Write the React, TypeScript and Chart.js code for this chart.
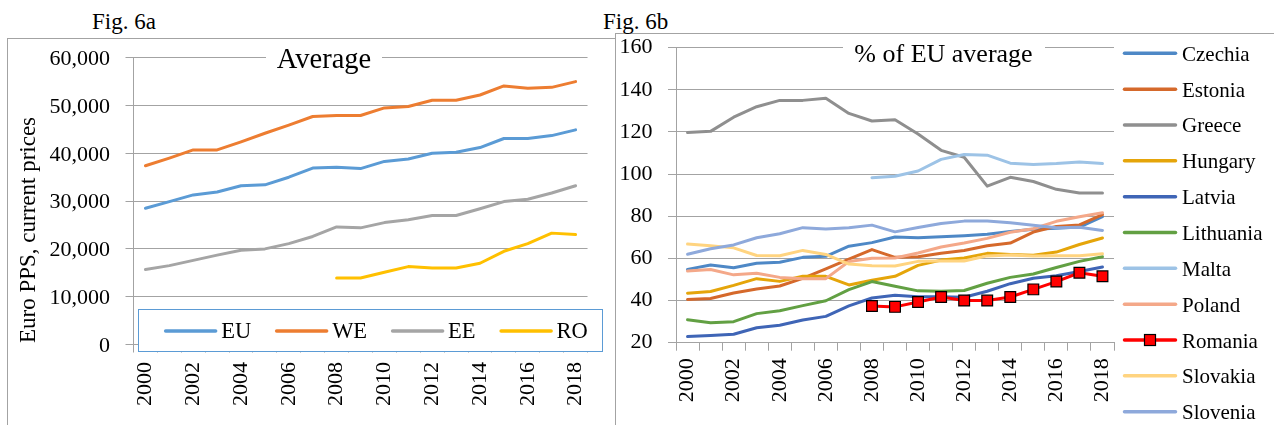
import React, { useEffect, useRef } from 'react';
import { Chart, registerables } from 'chart.js';

Chart.register(...registerables);

const FONT = "'Liberation Serif', 'Times New Roman', serif";
const GRID = '#a3a3a3';
const TEXT = '#000000';

// ---------- shared categories ----------
const years = ['2000', '2001', '2002', '2003', '2004', '2005', '2006', '2007', '2008', '2009',
  '2010', '2011', '2012', '2013', '2014', '2015', '2016', '2017', '2018'];

// ---------- Fig. 6a : Average, Euro PPS ----------
const avgNames = ['EU', 'WE', 'EE', 'RO'];
const avgColors = ['#5B9BD5', '#ED7D31', '#A5A5A5', '#FFC000'];
const euAvg = [28500, 29900, 31300, 31900, 33200, 33400, 35000, 36900, 37100, 36800,
  38300, 38800, 40000, 40200, 41200, 43100, 43100, 43700, 44900];
const weAvg = [37400, 39000, 40700, 40700, 42400, 44200, 45900, 47700, 47900, 47900,
  49500, 49800, 51100, 51100, 52200, 54100, 53600, 53800, 55000];
const eeAvg = [15700, 16500, 17600, 18700, 19700, 20000, 21100, 22600, 24600, 24400,
  25500, 26100, 27000, 27000, 28400, 29900, 30400, 31700, 33200];
const roAvg = [null, null, null, null, null, null, null, null, 13900, 13900,
  15100, 16300, 16000, 16000, 17000, 19500, 21100, 23300, 23000];
const avgTicks = { min: 0, max: 60000, step: 10000 };

// ---------- Fig. 6b : % of EU average ----------
const countryNames = ['Czechia', 'Estonia', 'Greece', 'Hungary', 'Latvia', 'Lithuania',
  'Malta', 'Poland', 'Romania', 'Slovakia', 'Slovenia'];
const countryColors = ['#4E88C6', '#D5692B', '#8F8F8F', '#E5A50A', '#3F65B6', '#62A043',
  '#9DC3E6', '#F4A889', '#FF0000', '#FFD480', '#8EA9DB'];
const czechia = [54.8, 56.9, 55.6, 57.7, 58.2, 60.5, 61.0, 65.8, 67.5, 70.2,
  69.8, 70.3, 70.8, 71.5, 72.8, 73.8, 74.3, 74.9, 79.8];
const estonia = [40.5, 41.0, 43.6, 45.5, 46.9, 50.5, 55.0, 59.7, 64.2, 60.5,
  60.8, 62.5, 63.8, 66.0, 67.3, 72.5, 75.2, 75.9, 80.8];
const greece = [119.7, 120.3, 127.0, 132.0, 135.0, 135.0, 136.0, 128.8, 125.2, 125.8,
  119.0, 111.3, 108.0, 94.3, 98.5, 96.5, 92.8, 91.0, 91.0];
const hungary = [43.5, 44.3, 47.2, 50.4, 49.1, 51.5, 51.5, 47.4, 49.6, 51.5,
  56.7, 59.2, 60.2, 62.4, 61.8, 61.5, 63.0, 66.6, 69.7];
const latvia = [22.9, 23.4, 24.0, 27.1, 28.3, 30.8, 32.5, 37.5, 41.2, 42.5,
  41.8, 41.8, 41.6, 44.4, 48.0, 50.6, 51.8, 53.8, 55.9];
const lithuania = [30.9, 29.5, 30.0, 33.8, 35.2, 37.6, 39.9, 45.2, 49.0, 46.8,
  44.6, 44.4, 44.8, 48.2, 51.0, 52.6, 55.7, 58.6, 60.8];
const malta = [null, null, null, null, null, null, null, null, 98.3, 99.0,
  101.5, 107.0, 109.3, 109.0, 105.2, 104.6, 105.0, 105.7, 105.0];
const poland = [54.0, 54.7, 52.2, 53.0, 51.0, 50.4, 50.4, 58.5, 60.1, 60.2,
  62.6, 65.4, 67.3, 69.5, 72.4, 74.1, 77.6, 79.8, 81.7];
const romania = [null, null, null, null, null, null, null, null, 37.4, 37.0,
  39.3, 41.7, 40.0, 40.0, 41.7, 45.3, 49.0, 53.2, 51.5];
const slovakia = [66.8, 66.0, 65.0, 61.4, 61.3, 63.8, 61.9, 57.3, 56.5, 56.4,
  58.6, 58.8, 58.8, 61.2, 61.6, 61.1, 61.3, 61.3, 62.2];
const slovenia = [62.0, 64.6, 66.4, 69.8, 71.7, 74.6, 74.0, 74.5, 75.8, 72.6,
  74.7, 76.6, 77.7, 77.7, 76.9, 75.7, 74.5, 74.8, 73.3];
const pctTicks = { min: 20, max: 160, step: 20 };

const avgSeries = [euAvg, weAvg, eeAvg, roAvg];
const countrySeries = [czechia, estonia, greece, hungary, latvia, lithuania, malta, poland,
  romania, slovakia, slovenia];

const lineBase = {
  borderWidth: 3,
  pointRadius: 0,
  tension: 0,
  fill: false,
  borderCapStyle: 'round',
  borderJoinStyle: 'round',
  spanGaps: false,
};

function drawSample(ctx: CanvasRenderingContext2D, x1: number, x2: number, y: number, color: string, marker: boolean) {
  ctx.save();
  ctx.strokeStyle = color;
  ctx.lineWidth = 3.5;
  ctx.lineCap = 'round';
  ctx.beginPath();
  ctx.moveTo(x1 + 1.5, y);
  ctx.lineTo(x2 - 1.5, y);
  ctx.stroke();
  if (marker) {
    const cx = (x1 + x2) / 2;
    const s = 11;
    ctx.fillStyle = color;
    ctx.strokeStyle = '#000';
    ctx.lineWidth = 1.2;
    ctx.fillRect(cx - s / 2, y - s / 2, s, s);
    ctx.strokeRect(cx - s / 2, y - s / 2, s, s);
  }
  ctx.restore();
}

const leftOverlay = {
  id: 'leftOverlay',
  afterDraw(chart: any) {
    const ctx: CanvasRenderingContext2D = chart.ctx;
    ctx.save();
    // axis title
    ctx.save();
    ctx.translate(35, 230);
    ctx.rotate(-Math.PI / 2);
    ctx.font = `23px ${FONT}`;
    ctx.fillStyle = TEXT;
    ctx.textAlign = 'center';
    ctx.textBaseline = 'alphabetic';
    ctx.fillText('Euro PPS, current prices', 0, 0);
    ctx.restore();
    // chart title
    ctx.fillStyle = '#fff';
    ctx.fillRect(266, 44, 116, 28);
    ctx.font = `28.5px ${FONT}`;
    ctx.fillStyle = TEXT;
    ctx.textAlign = 'center';
    ctx.textBaseline = 'alphabetic';
    ctx.fillText('Average', 324, 68);
    // legend box
    ctx.fillStyle = '#fff';
    ctx.fillRect(138.5, 309.5, 464, 42);
    ctx.strokeStyle = '#5B9BD5';
    ctx.lineWidth = 1;
    ctx.strokeRect(138.5, 309.5, 464, 42);
    ctx.font = `22.5px ${FONT}`;
    const lineLen = 53;
    const gapText = 4;
    const gapItem = 24;
    const widths = avgNames.map((n) => ctx.measureText(n).width);
    const total = widths.reduce((a, w) => a + lineLen + gapText + w, 0) + gapItem * (avgNames.length - 1);
    let x = 376 - total / 2;
    const y = 331;
    avgNames.forEach((name, i) => {
      drawSample(ctx, x, x + lineLen, y, avgColors[i], false);
      ctx.fillStyle = TEXT;
      ctx.textAlign = 'left';
      ctx.textBaseline = 'alphabetic';
      ctx.fillText(name, x + lineLen + gapText, y + 7.4);
      x += lineLen + gapText + widths[i] + gapItem;
    });
    ctx.restore();
  },
};

const rightOverlay = {
  id: 'rightOverlay',
  afterDraw(chart: any) {
    const ctx: CanvasRenderingContext2D = chart.ctx;
    ctx.save();
    // chart title
    ctx.fillStyle = '#fff';
    ctx.fillRect(227, 36, 202, 28);
    ctx.font = `26px ${FONT}`;
    ctx.fillStyle = TEXT;
    ctx.textAlign = 'center';
    ctx.textBaseline = 'alphabetic';
    ctx.fillText('% of EU average', 327.5, 61.5);
    // legend
    ctx.font = `21px ${FONT}`;
    const x1 = 507;
    const x2 = 561;
    countryNames.forEach((name, i) => {
      const y = 53.3 + i * 35.84;
      drawSample(ctx, x1, x2, y, countryColors[i], name === 'Romania');
      ctx.fillStyle = TEXT;
      ctx.textAlign = 'left';
      ctx.textBaseline = 'alphabetic';
      ctx.fillText(name, 566, y + 7.5);
    });
    ctx.restore();
  },
};

function xScale(height: number, pad: number) {
  return {
    type: 'category',
    offset: true,
    grid: { offset: true, drawOnChartArea: false, drawTicks: true, tickLength: 8, color: GRID, lineWidth: 1 },
    border: { color: GRID, width: 1 },
    ticks: {
      autoSkip: false,
      minRotation: 90,
      maxRotation: 90,
      padding: pad,
      color: TEXT,
      font: { family: FONT, size: 22 },
      callback: (_v: any, i: number) => (i % 2 === 0 ? years[i] : ''),
    },
    afterFit: (s: any) => { s.height = height; },
  };
}

function yScale(t: { min: number; max: number; step: number }, width: number, offset: number, fmt: (v: number) => string) {
  return {
    min: t.min,
    max: t.max,
    grid: { color: GRID, tickLength: 8, lineWidth: 1 },
    border: { color: GRID, width: 1 },
    ticks: {
      stepSize: t.step,
      padding: 15.5,
      labelOffset: offset,
      color: TEXT,
      font: { family: FONT, size: 22 },
      callback: (v: any) => fmt(Number(v)),
    },
    afterFit: (s: any) => { s.width = width; },
  };
}

export default function App() {
  const leftRef = useRef<HTMLCanvasElement>(null);
  const rightRef = useRef<HTMLCanvasElement>(null);

  useEffect(() => {
    const left = new Chart(leftRef.current as HTMLCanvasElement, {
      type: 'line',
      data: {
        labels: years,
        datasets: avgSeries.map((d, i) => ({
          ...lineBase,
          label: avgNames[i],
          data: d,
          borderColor: avgColors[i],
          backgroundColor: avgColors[i],
          order: -i,
        })),
      } as any,
      options: {
        responsive: false,
        animation: false,
        devicePixelRatio: 1,
        events: [],
        layout: { padding: { left: 0, top: 57.7, right: 19.5, bottom: 0 } },
        plugins: { legend: { display: false }, tooltip: { enabled: false }, title: { display: false } },
        scales: {
          x: xScale(80.5, 9.5),
          y: yScale(avgTicks, 133.5, 1.5, (v) => v.toLocaleString('en-US')),
        },
      } as any,
      plugins: [leftOverlay],
    });

    const right = new Chart(rightRef.current as HTMLCanvasElement, {
      type: 'line',
      data: {
        labels: years,
        datasets: countrySeries.map((d, i) => {
          const isRo = countryNames[i] === 'Romania';
          return {
            ...lineBase,
            label: countryNames[i],
            data: d,
            borderColor: countryColors[i],
            backgroundColor: countryColors[i],
            pointStyle: 'rect',
            pointRadius: isRo ? 7.6 : 0,
            pointBackgroundColor: countryColors[i],
            pointBorderColor: '#000',
            pointBorderWidth: 1.2,
            order: -i,
          };
        }),
      } as any,
      options: {
        responsive: false,
        animation: false,
        devicePixelRatio: 1,
        events: [],
        layout: { padding: { left: 0, top: 47.7, right: 160, bottom: 0 } },
        plugins: { legend: { display: false }, tooltip: { enabled: false }, title: { display: false } },
        scales: {
          x: xScale(82.3, 7.5),
          y: yScale(pctTicks, 60, 0, (v) => String(v)),
        },
      } as any,
      plugins: [rightOverlay],
    });

    return () => {
      left.destroy();
      right.destroy();
    };
  }, []);

  const figStyle: React.CSSProperties = {
    position: 'absolute',
    top: 9,
    fontFamily: FONT,
    fontSize: 23,
    lineHeight: 'normal',
    color: TEXT,
    whiteSpace: 'nowrap',
  };

  return (
    <div style={{ position: 'absolute', left: 0, top: 0, width: 1274, height: 425, background: '#fff', overflow: 'hidden' }}>
      <div style={{ position: 'absolute', left: 7, top: 38, width: 608, height: 420, borderLeft: `1px solid ${GRID}`, borderTop: `1px solid ${GRID}` }} />
      <div style={{ position: 'absolute', left: 615, top: 33, width: 700, height: 420, borderLeft: `1px solid ${GRID}`, borderTop: `1px solid ${GRID}` }} />
      <div style={{ ...figStyle, left: 92 }}>Fig. 6a</div>
      <div style={{ ...figStyle, left: 603 }}>Fig. 6b</div>
      <canvas ref={leftRef} width={612} height={425} style={{ position: 'absolute', left: 0, top: 0, width: 612, height: 425 }} />
      <canvas ref={rightRef} width={658} height={425} style={{ position: 'absolute', left: 616, top: 0, width: 658, height: 425 }} />
    </div>
  );
}
